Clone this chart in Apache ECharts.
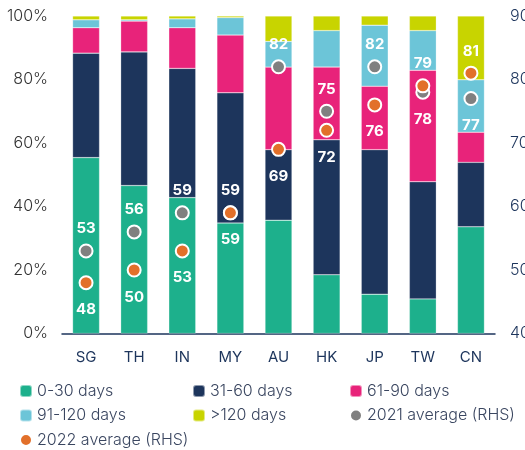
<!DOCTYPE html>
<html>
<head>
<meta charset="utf-8">
<script src="https://cdn.jsdelivr.net/npm/echarts@6/dist/echarts.min.js"></script>
<style>
  html, body { margin: 0; padding: 0; background: #fff; }
  #chart { width: 525px; height: 450px; }
</style>
</head>
<body>
<div id="chart"></div>
<script>
// markets on the x axis
const markets = ['SG', 'TH', 'IN', 'MY', 'AU', 'HK', 'JP', 'TW', 'CN'];

// share of invoices by days overdue (%)
const d0_30   = [55.4, 46.6, 42.8, 34.8, 35.7, 18.5, 12.4, 10.9, 33.6];
const d31_60  = [32.9, 42.1, 40.7, 41.0, 22.2, 42.5, 45.5, 36.9, 20.3];
const d61_90  = [ 8.0,  9.7, 12.8, 18.2, 26.0, 22.9, 20.0, 35.1,  9.5];
const d91_120 = [ 2.5,  0.4,  2.8,  5.5,  8.1, 11.5, 19.2, 12.5, 16.5];
const d120p   = [ 1.2,  1.2,  0.9,  0.5,  8.0,  4.6,  2.9,  4.6, 20.1];

// average days (right hand side)
const avg2021 = [53, 56, 59, 59, 82, 75, 82, 78, 77];
const avg2022 = [48, 50, 53, 59, 69, 72, 76, 79, 81];

const leftTicks = [0, 20, 40, 60, 80, 100];
const rightTicks = [40, 50, 60, 70, 80, 90];

const navy = '#1d355c';
const font = 'Inter, "Open Sans", sans-serif';

function bar(name, data, color) {
  return {
    name: name, type: 'bar', stack: 'share', data: data, barWidth: '56%',
    itemStyle: { color: color, borderColor: 'rgba(255,255,255,0.5)', borderWidth: 0.5 },
    emphasis: { disabled: true }
  };
}

// label above the higher dot, below the lower one
function dots(vals, other, upOnTie) {
  return vals.map((v, i) => {
    const up = v > other[i] || (v === other[i] && upOnTie);
    return {
      value: v,
      label: { position: up ? 'top' : 'bottom', distance: up ? 7 : 12 }
    };
  });
}

function scatter(name, data, color) {
  return {
    name: name, type: 'scatter', yAxisIndex: 1, data: data, z: 5,
    symbolSize: 13,
    itemStyle: { color: color, borderColor: '#fff', borderWidth: 2, opacity: 1 },
    label: {
      show: true, color: '#fff', fontFamily: font, fontWeight: 'bold', fontSize: 15
    },
    emphasis: { disabled: true }
  };
}

const chart = echarts.init(document.getElementById('chart'));

const legendBase = {
  orient: 'vertical', itemWidth: 12, itemHeight: 12, itemGap: 8.5, padding: 0,
  top: 383, height: 70,
  textStyle: { color: '#3a4660', fontFamily: font, fontSize: 16, fontWeight: 300, lineHeight: 16 },
  selectedMode: false
};

chart.setOption({
  animation: false,
  grid: { left: 62, right: 30, top: 16, bottom: 116.5, outerBoundsMode: 'none' },
  xAxis: {
    type: 'category', data: markets,
    axisLine: { lineStyle: { color: navy, width: 1.5 } },
    axisTick: { show: false },
    axisLabel: { color: navy, fontFamily: font, fontSize: 15, margin: 16 }
  },
  yAxis: [
    {
      type: 'value', min: leftTicks[0], max: leftTicks[leftTicks.length - 1], interval: 20,
      splitLine: { show: false },
      axisLabel: { formatter: '{value}%', color: '#333', fontFamily: font, fontSize: 16, fontWeight: 300, margin: 14 }
    },
    {
      type: 'value', min: rightTicks[0], max: rightTicks[rightTicks.length - 1], interval: 10,
      splitLine: { show: false },
      axisLabel: { color: navy, fontFamily: font, fontSize: 16, fontWeight: 300, margin: 15 }
    }
  ],
  legend: [
    Object.assign({ left: 19, data: ['0-30 days', '91-120 days', { name: '2022 average (RHS)', icon: 'circle' }] }, legendBase),
    Object.assign({ left: 192, data: ['31-60 days', '>120 days'] }, legendBase),
    Object.assign({ left: 349, data: ['61-90 days', { name: '2021 average (RHS)', icon: 'circle' }] }, legendBase)
  ],
  series: [
    bar('0-30 days', d0_30, '#1db08c'),
    bar('31-60 days', d31_60, navy),
    bar('61-90 days', d61_90, '#e8237a'),
    bar('91-120 days', d91_120, '#6cc5d8'),
    bar('>120 days', d120p, '#c8d400'),
    scatter('2021 average (RHS)', dots(avg2021, avg2022, true), '#808080'),
    scatter('2022 average (RHS)', dots(avg2022, avg2021, false), '#e2702a')
  ]
});
</script>
</body>
</html>
